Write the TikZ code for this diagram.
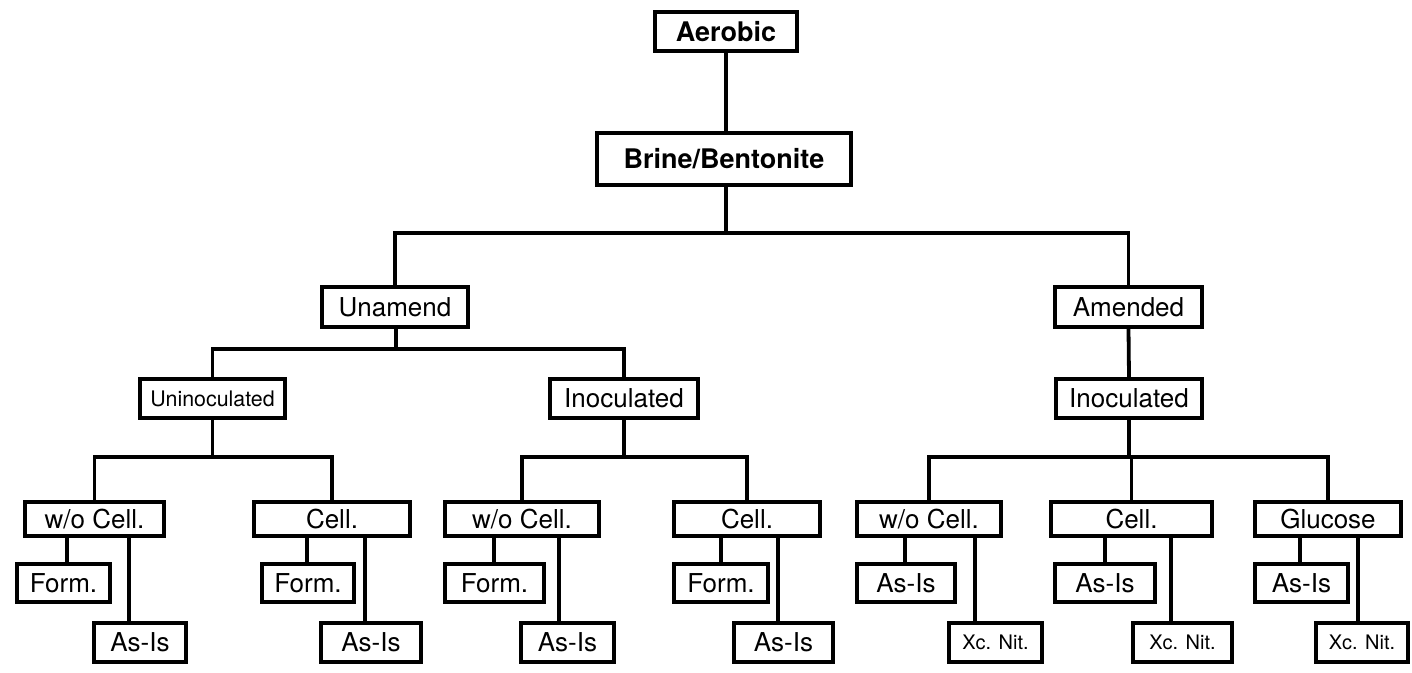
\documentclass[tikz,border=0pt]{standalone}
\usepackage{fontspec}
\setmainfont{TeX Gyre Heros}
\begin{document}
\begin{tikzpicture}[x=0.5pt,y=-0.5pt,
  bx/.style={draw, line width=2.1pt, inner sep=0pt, align=center, fill=white},
  ln/.style={line width=1.9pt},
  big/.style={font=\fontsize{13.5}{16}\selectfont\bfseries},
  reg/.style={font=\fontsize{13}{15}\selectfont},
  sml/.style={font=\fontsize{10.7}{13}\selectfont},
  tiny/.style={font=\fontsize{10}{12}\selectfont},
  r4/.style={minimum height=17pt},
  ra/.style={minimum height=19pt},
  rb/.style={minimum height=19.5pt}]
\useasboundingbox (0,0) rectangle (1412,673);

% top levels
\node[bx,big,minimum width=71pt,minimum height=19.5pt] (aer) at (726,31.5) {Aerobic};
\node[bx,big,minimum width=127pt,minimum height=26pt] (bri) at (724,159) {Brine/Bentonite};
\node[bx,reg,minimum width=73pt,minimum height=20pt] (una) at (395,307) {Unamend};
\node[bx,reg,minimum width=73.5pt,minimum height=20pt] (ame) at (1128.5,307) {Amended};
\node[bx,sml,minimum width=72.5pt,minimum height=19.5pt] (uni) at (212.5,398.5) {Uninoculated};
\node[bx,reg,minimum width=74pt,minimum height=19.5pt] (ino1) at (624,398.5) {Inoculated};
\node[bx,reg,minimum width=73pt,minimum height=19.5pt] (ino2) at (1129,398.5) {Inoculated};

% level 4
\node[bx,reg,r4,minimum width=69.5pt] (wc1) at (94.5,519) {w/o Cell.};
\node[bx,reg,r4,minimum width=78pt] (c1) at (332,519) {Cell.};
\node[bx,reg,r4,minimum width=77pt] (wc2) at (522,519) {w/o Cell.};
\node[bx,reg,r4,minimum width=73pt] (c2) at (747,519) {Cell.};
\node[bx,reg,r4,minimum width=72pt] (wc3) at (929,519) {w/o Cell.};
\node[bx,reg,r4,minimum width=80.5pt] (c3) at (1131.5,519) {Cell.};
\node[bx,reg,r4,minimum width=73pt] (g3) at (1328,519) {Glucose};

% leaf row A
\node[bx,reg,ra,minimum width=46.5pt] (f1) at (63.5,583) {Form.};
\node[bx,reg,ra,minimum width=46pt] (f2) at (308,583) {Form.};
\node[bx,reg,ra,minimum width=49.5pt] (f3) at (494.5,583) {Form.};
\node[bx,reg,ra,minimum width=47pt] (f4) at (721,583) {Form.};
\node[bx,reg,ra,minimum width=49pt] (a5) at (906,583) {As-Is};
\node[bx,reg,ra,minimum width=50pt] (a6) at (1105,583) {As-Is};
\node[bx,reg,ra,minimum width=46.5pt] (a7) at (1301.5,583) {As-Is};

% leaf row B
\node[bx,reg,rb,minimum width=46pt] (a1) at (140,642.5) {As-Is};
\node[bx,reg,rb,minimum width=50pt] (a2) at (371,642.5) {As-Is};
\node[bx,reg,rb,minimum width=46.5pt] (a3) at (567.5,642.5) {As-Is};
\node[bx,reg,rb,minimum width=49.5pt] (a4) at (783.5,642.5) {As-Is};
\node[bx,tiny,rb,minimum width=46.5pt] (x5) at (995.5,642.5) {Xc. Nit.};
\node[bx,tiny,rb,minimum width=49.5pt] (x6) at (1182.5,642.5) {Xc. Nit.};
\node[bx,tiny,rb,minimum width=46pt] (x7) at (1362,642.5) {Xc. Nit.};

% bus coordinates
\coordinate (b0) at (726,233);
\coordinate (b1) at (396,349);
\coordinate (b2) at (212.5,457);
\coordinate (b3) at (624,457);
\coordinate (b4) at (1129,457);

% leaf connector x positions
\coordinate (k1) at (67,0);   \coordinate (k2) at (129,0);
\coordinate (k3) at (307,0);  \coordinate (k4) at (365,0);
\coordinate (k5) at (494,0);  \coordinate (k6) at (559,0);
\coordinate (k7) at (721,0);  \coordinate (k8) at (778,0);
\coordinate (k9) at (905,0);  \coordinate (k10) at (975,0);
\coordinate (k11) at (1105,0);\coordinate (k12) at (1171,0);
\coordinate (k13) at (1300,0);\coordinate (k14) at (1358,0);

% connectors
\draw[ln] (aer.south) -- (aer.south |- bri.north);
\draw[ln] (bri.south -| b0) -- (b0);
\draw[ln] (una.north) |- (b0) -| (ame.north);
\draw[ln] (una.south -| b1) -- (b1);
\draw[ln] (uni.north) |- (b1) -| (ino1.north);
\draw[ln] (ame.south) -- (ino2.north);
\draw[ln] (uni.south) -- (b2);
\draw[ln] (wc1.north) |- (b2) -| (c1.north);
\draw[ln] (ino1.south) -- (b3);
\draw[ln] (wc2.north) |- (b3) -| (c2.north);
\draw[ln] (ino2.south) -- (b4);
\draw[ln] (wc3.north) |- (b4) -| (g3.north);
\draw[ln] (c3.north) -- (c3.north |- b4);

\draw[ln] (wc1.south -| k1) -- (f1.north -| k1);
\draw[ln] (wc1.south -| k2) -- (a1.north -| k2);
\draw[ln] (c1.south -| k3) -- (f2.north -| k3);
\draw[ln] (c1.south -| k4) -- (a2.north -| k4);
\draw[ln] (wc2.south -| k5) -- (f3.north -| k5);
\draw[ln] (wc2.south -| k6) -- (a3.north -| k6);
\draw[ln] (c2.south -| k7) -- (f4.north -| k7);
\draw[ln] (c2.south -| k8) -- (a4.north -| k8);
\draw[ln] (wc3.south -| k9) -- (a5.north -| k9);
\draw[ln] (wc3.south -| k10) -- (x5.north -| k10);
\draw[ln] (c3.south -| k11) -- (a6.north -| k11);
\draw[ln] (c3.south -| k12) -- (x6.north -| k12);
\draw[ln] (g3.south -| k13) -- (a7.north -| k13);
\draw[ln] (g3.south -| k14) -- (x7.north -| k14);
\end{tikzpicture}
\end{document}
